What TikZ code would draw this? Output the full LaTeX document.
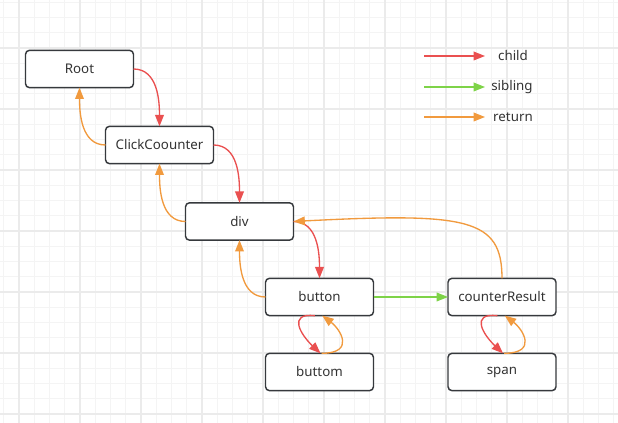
\documentclass[tikz,border=0pt]{standalone}
\usepackage{fontspec}
\setmainfont{Noto Sans}
\usetikzlibrary{arrows.meta}

\definecolor{childred}{HTML}{EA5050}
\definecolor{sibgreen}{HTML}{7ED348}
\definecolor{retorange}{HTML}{F19A3E}
\definecolor{boxgray}{HTML}{36393D}
\definecolor{txtgray}{HTML}{333333}
\definecolor{gridlight}{HTML}{F4F4F4}
\definecolor{griddark}{HTML}{EBEBEB}

\begin{document}
\begin{tikzpicture}[x=0.75pt, y=0.75pt,
		fiber/.style={draw=boxgray, line width=1.1pt, rounded corners=3pt, fill=white,
			minimum width=81pt, minimum height=28pt, inner sep=0pt, outer sep=0pt,
			text=txtgray, font=\fontsize{10}{12}\selectfont},
		legendtxt/.style={text=txtgray, font=\fontsize{10}{12}\selectfont, inner sep=0pt},
		link/.style={line width=1pt, -{Triangle[length=8.5pt, width=6.5pt]}}]
		\useasboundingbox (0, 0) rectangle (618, 423);
		\fill[white] (0, 0) rectangle (618, 423);
		% grid
		\foreach \i in {0,...,40}
			\draw[gridlight, line width=0.75pt] ({3.75+15.25*\i}, 0) -- ({3.75+15.25*\i}, 423);
		\foreach \i in {0,...,27}
			\draw[gridlight, line width=0.75pt] (0, {420.75-15.25*\i}) -- (618, {420.75-15.25*\i});
		\foreach \i in {0,...,9}
			\draw[griddark, line width=1.1pt] ({19+61*\i}, 0) -- ({19+61*\i}, 423);
		\foreach \i in {0,...,6}
			\draw[griddark, line width=1.1pt] (0, {375-61*\i}) -- (618, {375-61*\i});

		\node[fiber] (Root) at (79.5, 354) {Root};
		\node[fiber] (ClickCoounter) at (159.5, 278) {ClickCoounter};
		\node[fiber] (div) at (239.5, 201.5) {div};
		\node[fiber] (button) at (319.5, 126) {button};
		\node[fiber] (counterResult) at (502, 126) {counterResult};
		\node[fiber] (buttom) at (319.5, 51) {buttom};
		\node[fiber] (span) at (502, 51) {span};

		% child / return down the tree
		\draw[link, childred] (Root.east) to[out=0, in=90] (ClickCoounter.north);
		\draw[link, retorange] (ClickCoounter.west) to[out=180, in=-90] (Root.south);
		\draw[link, childred] (ClickCoounter.east) to[out=0, in=90] (div.north);
		\draw[link, retorange] (div.west) to[out=180, in=-90] (ClickCoounter.south);
		\draw[link, childred] (div.east) to[out=0, in=90] (button.north);
		\draw[link, retorange] (button.west) to[out=180, in=-90] (div.south);
		\draw[link, sibgreen] (button.east) -- (counterResult.west);
		\draw[link, retorange] (counterResult.north) .. controls +(0, 60) and +(174, 9) .. (div.east);

		% loops to the leaves
		\draw[link, childred] ([xshift=-3.4pt]button.south) .. controls +(-28, 3) and +(-19.5, 18.3) .. ([xshift=0.75pt]buttom.north);
		\draw[link, retorange] ([xshift=1.5pt]buttom.north) .. controls +(34.5, 0) and +(17.7, -13.3) .. ([xshift=2.1pt]button.south);
		\draw[link, childred] ([xshift=-3.4pt]counterResult.south) .. controls +(-28, 3) and +(-19.5, 18.3) .. ([xshift=0.75pt]span.north);
		\draw[link, retorange] ([xshift=1.5pt]span.north) .. controls +(34.5, 0) and +(17.7, -13.3) .. ([xshift=2.1pt]counterResult.south);

		% legend
		\coordinate (childA) at (424, 367);
		\coordinate (childB) at (485, 367);
		\coordinate (siblingA) at (424, 336);
		\coordinate (siblingB) at (485, 336);
		\coordinate (returnA) at (424, 306);
		\coordinate (returnB) at (485, 306);
		\draw[link, childred] (childA) -- (childB);
		\draw[link, sibgreen] (siblingA) -- (siblingB);
		\draw[link, retorange] (returnA) -- (returnB);
		\node[legendtxt] (childlbl) at (513, 367) {child};
		\node[legendtxt] (siblinglbl) at (512, 336) {sibling};
		\node[legendtxt] (returnlbl) at (513, 306) {return};
	\end{tikzpicture}
\end{document}
